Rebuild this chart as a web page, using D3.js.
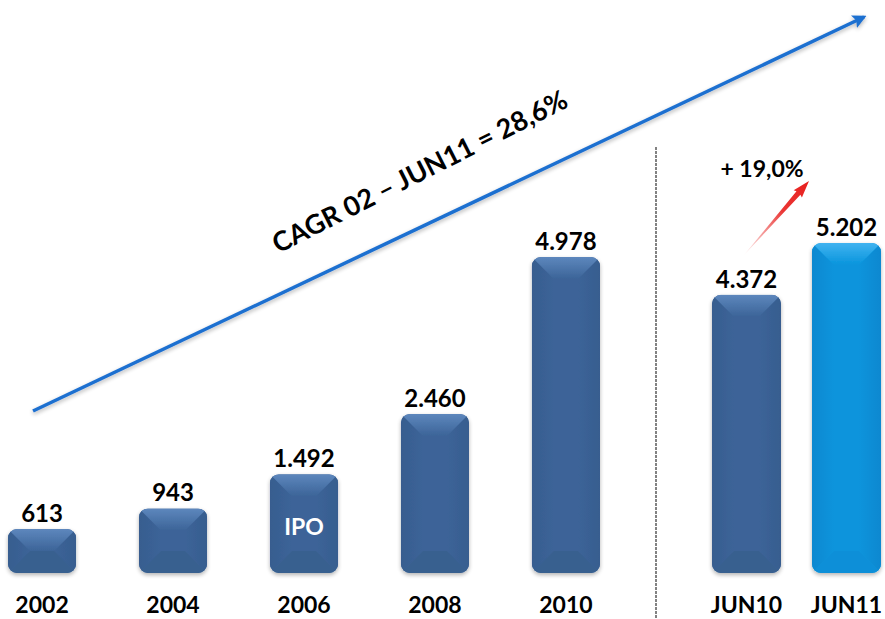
<!DOCTYPE html>
<html>
<head>
<meta charset="utf-8">
<script src="https://cdn.jsdelivr.net/npm/d3@7"></script>
<style>
  body { margin: 0; background: #fff; }
  text { font-family: Lato, "Open Sans", sans-serif; font-weight: bold; }
</style>
</head>
<body>
<div id="chart"></div>
<script>
// data
var years = ["2002", "2004", "2006", "2008", "2010"];
var yearValues = [613, 943, 1492, 2460, 4978];
var halfYears = ["JUN10", "JUN11"];
var halfValues = [4372, 5202];
var valueLabels = ["613", "943", "1.492", "2.460", "4.978", "4.372", "5.202"];
var cagrText = "CAGR 02 \u2013 JUN11 = 28,6%";
var growthText = "+ 19,0%";

var width = 885, height = 619;
var base = 573;

var svg = d3.select("#chart").append("svg")
  .attr("width", width).attr("height", height);

var defs = svg.append("defs");

// x scales for both groups
var xYears = d3.scaleBand().domain(years).range([8, 600]).paddingInner(0.48).paddingOuter(0);
var xHalf = d3.scaleBand().domain(halfYears).range([712, 881]).paddingInner(0.31).paddingOuter(0);

// y scale - bars don't start at zero in the original
var y = d3.scaleLinear().domain([-93, 4978]).range([base, 257]);

var shadow = defs.append("filter").attr("id", "shadow")
  .attr("x", "-20%").attr("y", "-10%").attr("width", "140%").attr("height", "130%");
shadow.append("feGaussianBlur").attr("in", "SourceAlpha").attr("stdDeviation", 2);
shadow.append("feOffset").attr("dx", 0).attr("dy", 2).attr("result", "ob");
shadow.append("feComponentTransfer").append("feFuncA").attr("type", "linear").attr("slope", 0.3);
var mrg = shadow.append("feMerge");
mrg.append("feMergeNode");
mrg.append("feMergeNode").attr("in", "SourceGraphic");

var palettes = {
  dark: { base: "#3c6498", top: "#5d87bd", side: "#375d8f", bottom: "#39608f" },
  light: { base: "#0894dc", top: "#40b3f0", side: "#0788d0", bottom: "#0a8fd8" }
};

// gradients for the bevels of each palette
Object.keys(palettes).forEach(function(k) {
  var p = palettes[k];
  var gr = defs.append("linearGradient").attr("id", "top-" + k)
    .attr("x1", 0).attr("y1", 0).attr("x2", 0).attr("y2", 1);
  gr.append("stop").attr("offset", "0").attr("stop-color", p.top);
  gr.append("stop").attr("offset", "1").attr("stop-color", p.base);
  var sg = defs.append("linearGradient").attr("id", "sideL-" + k)
    .attr("x1", 0).attr("y1", 0).attr("x2", 1).attr("y2", 0);
  sg.append("stop").attr("offset", "0").attr("stop-color", p.side);
  sg.append("stop").attr("offset", "1").attr("stop-color", p.base);
  var sr = defs.append("linearGradient").attr("id", "sideR-" + k)
    .attr("x1", 1).attr("y1", 0).attr("x2", 0).attr("y2", 0);
  sr.append("stop").attr("offset", "0").attr("stop-color", p.side);
  sr.append("stop").attr("offset", "1").attr("stop-color", p.base);
});

var bars = [];
years.forEach(function(c, i) {
  bars.push({ cat: c, value: yearValues[i], x: xYears(c), w: xYears.bandwidth(), label: valueLabels[i], pal: "dark" });
});
halfYears.forEach(function(c, i) {
  bars.push({ cat: c, value: halfValues[i], x: xHalf(c), w: xHalf.bandwidth(), label: valueLabels[5 + i], pal: i == 1 ? "light" : "dark" });
});

bars.forEach(function(d, i) {
  var x = d.x, w = d.w, top = y(d.value), h = base - top;
  var p = palettes[d.pal];
  var r = 9;
  var cid = "clip" + i;
  defs.append("clipPath").attr("id", cid).append("rect")
    .attr("x", x).attr("y", top).attr("width", w).attr("height", h).attr("rx", r);

  var g = svg.append("g").attr("filter", "url(#shadow)");
  var inner = g.append("g").attr("clip-path", "url(#" + cid + ")");
  inner.append("rect").attr("x", x).attr("y", top).attr("width", w).attr("height", h).attr("fill", p.base);

  var dd = Math.min(22, h / 2, w / 2);
  var b = base;
  var polys = [
    { pts: [[x, top], [x + dd, top + dd], [x + dd, b - dd], [x, b]], fill: "url(#sideL-" + d.pal + ")" },
    { pts: [[x + w, top], [x + w - dd, top + dd], [x + w - dd, b - dd], [x + w, b]], fill: "url(#sideR-" + d.pal + ")" },
    { pts: [[x, b], [x + dd, b - dd], [x + w - dd, b - dd], [x + w, b]], fill: p.bottom },
    { pts: [[x, top], [x + w, top], [x + w - dd, top + dd], [x + dd, top + dd]], fill: "url(#top-" + d.pal + ")" }
  ];
  polys.forEach(function(q) {
    inner.append("polygon").attr("points", q.pts.map(function(pt) { return pt.join(","); }).join(" "))
      .attr("fill", q.fill);
  });

  // value label above the bar
  svg.append("text")
    .attr("x", x + w / 2).attr("y", top - 7)
    .attr("text-anchor", "middle")
    .attr("font-size", 24).attr("fill", "#000")
    .text(d.label);

  // category label below
  svg.append("text")
    .attr("x", x + w / 2).attr("y", 613)
    .attr("text-anchor", "middle")
    .attr("font-size", 23).attr("fill", "#000")
    .text(d.cat);
});

// IPO tag inside the 2006 bar
svg.append("text")
  .attr("x", xYears("2006") + xYears.bandwidth() / 2)
  .attr("y", 535)
  .attr("text-anchor", "middle")
  .attr("font-size", 23).attr("fill", "#fff")
  .text("IPO");

// separator
svg.append("line")
  .attr("x1", 656).attr("x2", 656).attr("y1", 147).attr("y2", 619)
  .attr("stroke", "#828282").attr("stroke-width", 2)
  .attr("stroke-dasharray", "3,1");

// long blue trend arrow
defs.append("marker").attr("id", "blueHead")
  .attr("viewBox", "0 0 10 10").attr("refX", 8).attr("refY", 5)
  .attr("markerWidth", 4).attr("markerHeight", 4).attr("orient", "auto")
  .attr("markerUnits", "strokeWidth")
  .append("path").attr("d", "M0,0 L10,5 L0,10 L2,5 Z").attr("fill", "#1f6fd0");

svg.append("line")
  .attr("x1", 33).attr("y1", 411).attr("x2", 864).attr("y2", 17)
  .attr("stroke", "#1f6fd0").attr("stroke-width", 3.5)
  .attr("marker-end", "url(#blueHead)")
  .attr("filter", "url(#shadow)");

var ang = Math.atan2(17 - 411, 864 - 33) * 180 / Math.PI - 1.5;
svg.append("text")
  .attr("transform", "translate(424,180) rotate(" + ang + ")")
  .attr("text-anchor", "middle")
  .attr("font-size", 27).attr("fill", "#000")
  .text(cagrText);

// red growth arrow
var rg = defs.append("linearGradient").attr("id", "redGrad")
  .attr("gradientUnits", "userSpaceOnUse")
  .attr("x1", 745).attr("y1", 254).attr("x2", 808).attr("y2", 182);
rg.append("stop").attr("offset", "0").attr("stop-color", "#e8201e").attr("stop-opacity", 0.05);
rg.append("stop").attr("offset", "0.6").attr("stop-color", "#e8201e").attr("stop-opacity", 0.9);
rg.append("stop").attr("offset", "1").attr("stop-color", "#e8201e").attr("stop-opacity", 1);

// arrow body: thin tail widening, with head
var ax0 = 744, ay0 = 255, ax1 = 809, ay1 = 181;
var len = Math.hypot(ax1 - ax0, ay1 - ay0);
var ux = (ax1 - ax0) / len, uy = (ay1 - ay0) / len;
var nx = -uy, ny = ux;
function pt(t, o) { return [ax0 + ux * t + nx * o, ay0 + uy * t + ny * o]; }
var arrowPts = [pt(0, 0), pt(len - 16, 2.6), pt(len - 17, 5.5), pt(len, 0), pt(len - 17, -5.5), pt(len - 16, -2.6)];
svg.append("polygon")
  .attr("points", arrowPts.map(function(p) { return p.join(","); }).join(" "))
  .attr("fill", "url(#redGrad)");

svg.append("text")
  .attr("x", 762).attr("y", 177)
  .attr("text-anchor", "middle")
  .attr("font-size", 23).attr("fill", "#000")
  .text(growthText);
</script>
</body>
</html>
